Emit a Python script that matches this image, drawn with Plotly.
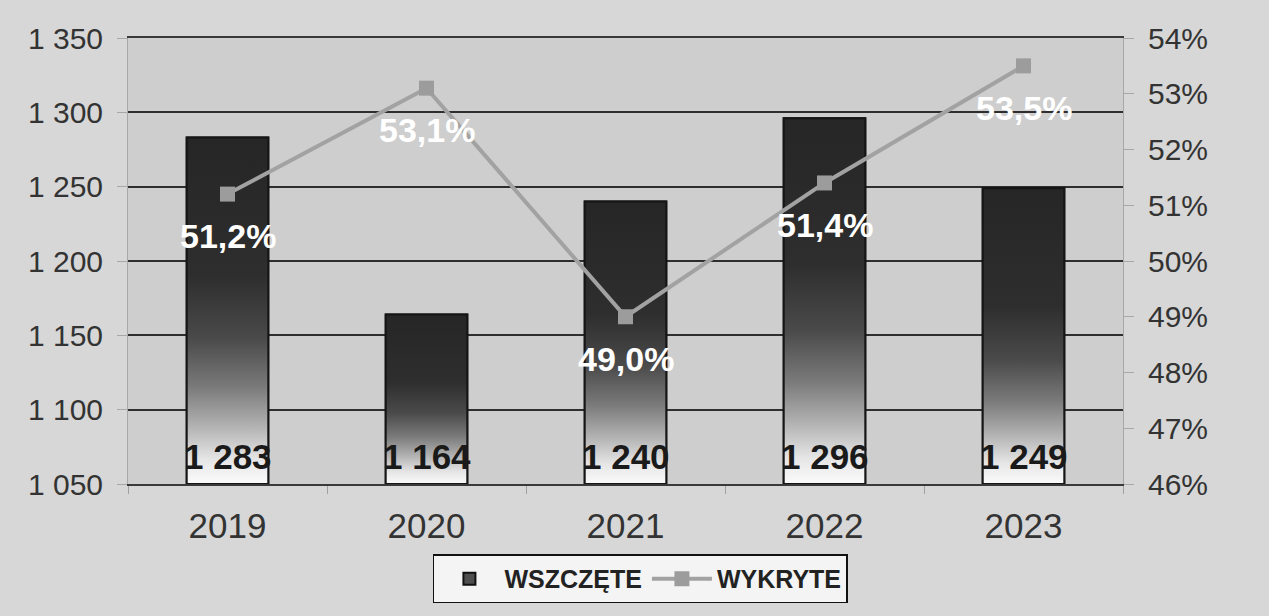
import plotly.graph_objects as go

years = ["2019", "2020", "2021", "2022", "2023"]
wszczete = [1283, 1164, 1240, 1296, 1249]
wykryte = [51.2, 53.1, 49.0, 51.4, 53.5]
left_ticks = [1050, 1100, 1150, 1200, 1250, 1300, 1350]
right_ticks = [46, 47, 48, 49, 50, 51, 52, 53, 54]

FONT = "Liberation Sans, Arial, sans-serif"
Y_MIN, Y_MAX = 1050, 1350
BAR_W = 0.41
idx = list(range(len(years)))

grad = [[0.0, "#fbfbfb"], [0.07, "#e6e6e6"], [0.17, "#b0b0b0"], [0.28, "#7a7a7a"],
        [0.42, "#4a4a4a"], [0.6, "#2e2e2e"], [1.0, "#262626"]]

fig = go.Figure()

# real bar trace (gives legend entry)
fig.add_trace(go.Bar(
    x=idx, y=wszczete, width=BAR_W, name="<b>WSZCZĘTE</b>",
    marker=dict(color="#4e4e4e", line=dict(color="#111111", width=2)),
    hoverinfo="skip",
))

# gradient overlays, one per bar, derived from the data
for i, v in zip(idx, wszczete):
    x0, x1 = i - BAR_W / 2, i + BAR_W / 2
    fig.add_trace(go.Scatter(
        x=[x0, x1, x1, x0, x0], y=[Y_MIN, Y_MIN, v, v, Y_MIN],
        mode="lines", fill="toself",
        fillgradient=dict(type="vertical", colorscale=grad),
        line=dict(color="#151515", width=2),
        showlegend=False, hoverinfo="skip",
    ))

fig.add_trace(go.Scatter(
    x=idx, y=wykryte, yaxis="y2", name="<b>WYKRYTE</b>",
    mode="lines+markers",
    line=dict(color="#a2a2a2", width=4),
    marker=dict(symbol="square", size=15, color="#9c9c9c"),
    cliponaxis=False,
))

for i, p in zip(idx, wykryte):
    fig.add_annotation(
        x=i, y=p, xref="x", yref="y2", yshift=-42,
        text="<b>" + f"{p:.1f}".replace(".", ",") + "%</b>", showarrow=False,
        font=dict(family=FONT, size=34, color="#ffffff"),
    )

for i, v in zip(idx, wszczete):
    fig.add_annotation(
        x=i, y=0, xref="x", yref="y domain", yanchor="bottom", yshift=6,
        text="<b>" + f"{v:,}".replace(",", " ") + "</b>", showarrow=False,
        font=dict(family=FONT, size=35, color="#1a1a1a"),
    )

fig.update_layout(
    width=1269, height=616,
    margin=dict(l=128, r=146, t=38, b=129),
    paper_bgcolor="#d7d7d7", plot_bgcolor="#cecece",
    separators=", ",
    font=dict(family=FONT, color="#333333"),
    barmode="overlay",
    showlegend=True,
    legend=dict(
        orientation="h", x=0.515, xanchor="center", y=-0.158, yanchor="top",
        bgcolor="#f4f4f4", bordercolor="#111111", borderwidth=1.5,
        font=dict(family=FONT, size=25, color="#222222"),
        itemwidth=60,
    ),
    xaxis=dict(
        range=[-0.5, 4.5], tickvals=idx, ticktext=years,
        tickfont=dict(size=35, color="#333333"),
        showgrid=False, zeroline=False, showline=True, linecolor="#3a3a3a",
        linewidth=1.5, mirror=True,
        ticks="", ticklabelstandoff=10, automargin=False,
        minor=dict(tickvals=[-0.5, 0.5, 1.5, 2.5, 3.5, 4.5], ticks="outside",
                   ticklen=8, tickcolor="#a0a0a0"),
    ),
    yaxis=dict(
        range=[Y_MIN, Y_MAX], tickvals=left_ticks, tickformat=",d",
        tickfont=dict(size=30, color="#333333"),
        showgrid=True, gridcolor="#2e2e2e", gridwidth=1.5,
        zeroline=False, showline=True, linecolor="#a8a8a8", automargin=False,
        ticks="outside", ticklen=10, tickcolor="#a8a8a8", ticklabelstandoff=8,
    ),
    yaxis2=dict(
        overlaying="y", side="right", range=[46, 54], tickvals=right_ticks,
        ticktext=[f"{t}%" for t in right_ticks],
        tickfont=dict(size=30, color="#333333"),
        showgrid=False, zeroline=False, showline=True, linecolor="#a8a8a8",
        automargin=False,
        ticks="outside", ticklen=10, tickcolor="#a8a8a8", ticklabelstandoff=8,
    ),
)

fig.write_html("out.html", post_script="document.body.style.margin='0';",
               config={"displayModeBar": False})
